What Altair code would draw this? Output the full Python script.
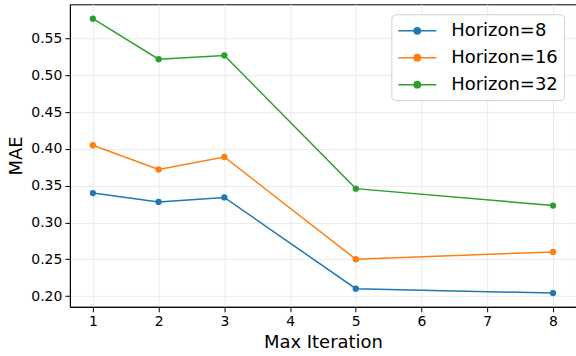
import altair as alt
import pandas as pd

iterations = [1, 2, 3, 5, 8]
horizon_8 = [0.340, 0.328, 0.334, 0.210, 0.204]
horizon_16 = [0.405, 0.372, 0.389, 0.250, 0.260]
horizon_32 = [0.577, 0.522, 0.527, 0.346, 0.323]
series_names = ["Horizon=8", "Horizon=16", "Horizon=32"]
series_colors = ["#1f77b4", "#ff7f0e", "#2ca02c"]
x_ticks = [1, 2, 3, 4, 5, 6, 7, 8]
y_ticks = [0.20, 0.25, 0.30, 0.35, 0.40, 0.45, 0.50, 0.55]

rows = []
for name, vals in zip(series_names, [horizon_8, horizon_16, horizon_32]):
    for it, v in zip(iterations, vals):
        rows.append({"Max Iteration": it, "MAE": v, "series": name})
df = pd.DataFrame(rows)

font = "DejaVu Sans"
legend_symbol = ("M-1,0L3,0M0.67,0A0.33,0.33 0 1,1 1.33,0"
                 "A0.33,0.33 0 1,1 0.67,0Z")

color = alt.Color(
    "series:N",
    scale=alt.Scale(domain=series_names, range=series_colors),
    sort=series_names,
    legend=alt.Legend(
        title=None,
        orient="none",
        legendX=322,
        legendY=10,
        labelFontSize=18,
        labelFont=font,
        labelColor="#000000",
        symbolType=legend_symbol,
        symbolSize=361,
        symbolStrokeWidth=1.5,
        labelOffset=33,
        rowPadding=7,
        padding=6,
        strokeColor="#d0d0d0",
        fillColor="#ffffff",
        cornerRadius=4,
    ),
)

x = alt.X(
    "Max Iteration:Q",
    scale=alt.Scale(domain=[0.65, 8.35], nice=False, zero=False),
    axis=alt.Axis(values=x_ticks, format="d", title="Max Iteration",
                  titleFontSize=18, titlePadding=5),
)
y = alt.Y(
    "MAE:Q",
    scale=alt.Scale(domain=[0.1854, 0.5966], nice=False, zero=False),
    axis=alt.Axis(values=y_ticks, format=".2f", title="MAE",
                  titleFontSize=18, titlePadding=5),
)

chart = (
    alt.Chart(df)
    .mark_line(strokeWidth=1.5, point=alt.OverlayMarkDef(size=40, filled=True, opacity=1))
    .encode(x=x, y=y, color=color)
    .properties(width=507, height=303)
    .configure(
        autosize=alt.AutoSizeParams(type="none"),
        padding={"left": 70, "top": 4, "right": 0, "bottom": 49},
        font=font,
    )
    .configure_view(stroke="#000000", strokeWidth=1)
    .configure_axis(
        labelFontSize=14,
        labelFont=font,
        labelColor="#000000",
        titleFont=font,
        titleFontWeight="normal",
        titleColor="#000000",
        domainColor="#000000",
        domainWidth=1,
        tickColor="#000000",
        tickSize=5,
        labelPadding=3,
        gridColor="#ebebeb",
        gridWidth=1,
    )
)

chart.save("out.html", embed_options={"renderer": "svg", "actions": False})
